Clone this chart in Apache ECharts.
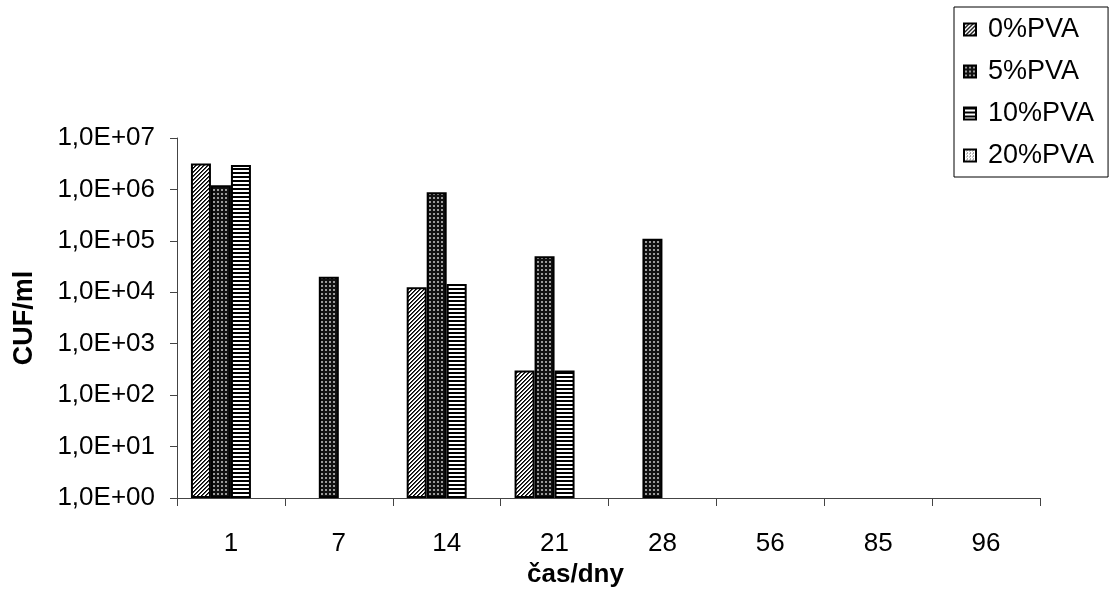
<!DOCTYPE html>
<html>
<head>
<meta charset="utf-8">
<script src="https://cdn.jsdelivr.net/npm/echarts@6/dist/echarts.min.js"></script>
<style>
  html, body { margin: 0; padding: 0; background: #fff; }
  #chart { width: 1112px; height: 604px; }
</style>
</head>
<body>
<div id="chart"></div>
<script>
// Days of storage (category axis)
const categories = ['1', '7', '14', '21', '28', '56', '85', '96'];
// CUF/ml per PVA content; null = nothing detected
const pva0  = [3.2e6, null, 1.25e4, 3.0e2, null, null, null, null];
const pva5  = [1.2e6, 2.0e4, 8.8e5, 5.0e4, 1.1e5, null, null, null];
const pva10 = [3.0e6, null, 1.45e4, 3.0e2, null, null, null, null];
const pva20 = [null, null, null, null, null, null, null, null];
const seriesNames = ['0%PVA', '5%PVA', '10%PVA', '20%PVA'];
// Log axis ticks: 10^0 .. 10^7
const yMin = 1, yMax = 1e7;

// Monochrome fill patterns built on small canvases
function tile(w, h, paint) {
  const c = document.createElement('canvas');
  c.width = w; c.height = h;
  const ctx = c.getContext('2d');
  paint(ctx, w, h);
  return { image: c, repeat: 'repeat' };
}
function px(ctx, x, y, col) { ctx.fillStyle = col; ctx.fillRect(x, y, 1, 1); }

const patDiag = tile(4, 4, (ctx, w, h) => {
  ctx.fillStyle = '#fff'; ctx.fillRect(0, 0, w, h);
  for (let y = 0; y < h; y++) for (let x = 0; x < w; x++) {
    const m = (x + y) % 4;
    if (m === 0) px(ctx, x, y, '#000');
    else if (m === 1) px(ctx, x, y, '#444');
  }
});
const patDark = tile(4, 4, (ctx, w, h) => {
  ctx.fillStyle = '#111'; ctx.fillRect(0, 0, w, h);
  ctx.fillStyle = '#9a9a9a'; ctx.fillRect(1, 1, 2, 2);
});
const patStripe = tile(4, 4, (ctx, w, h) => {
  ctx.fillStyle = '#fff'; ctx.fillRect(0, 0, w, h);
  ctx.fillStyle = '#000'; ctx.fillRect(0, 0, w, 2);
});
const patDots = tile(3, 3, (ctx, w, h) => {
  ctx.fillStyle = '#fff'; ctx.fillRect(0, 0, w, h);
  px(ctx, 0, 0, '#555'); px(ctx, 2, 1, '#999');
});

const patterns = [patDiag, patDark, patStripe, patDots];
const values = [pva0, pva5, pva10, pva20];

function fmtExp(v) {
  const k = Math.round(Math.log10(v));
  return '1,0E+' + String(k).padStart(2, '0');
}

const font = 'Liberation Sans, Arial, sans-serif';

const chart = echarts.init(document.getElementById('chart'), null, { renderer: 'canvas' });
chart.setOption({
  animation: false,
  backgroundColor: '#fff',
  grid: { left: 177, right: 72, top: 138, bottom: 106, containLabel: false },
  legend: {
    orient: 'vertical',
    left: 954,
    top: 7,
    padding: [9, 14, 8, 9],
    borderColor: '#000',
    borderWidth: 1,
    itemWidth: 12,
    itemHeight: 12,
    itemGap: 15,
    icon: 'rect',
    textStyle: { fontFamily: font, fontSize: 27, color: '#000', padding: [0, 0, 0, 7], lineHeight: 27 },
    data: seriesNames
  },
  xAxis: {
    type: 'category',
    data: categories,
    boundaryGap: true,
    name: 'čas/dny',
    nameLocation: 'middle',
    nameGap: 55,
    nameTextStyle: { fontFamily: font, fontSize: 26, fontWeight: 'bold', color: '#000', padding: [0, 66, 0, 0] },
    axisLine: { lineStyle: { color: '#444', width: 1 } },
    axisTick: { show: true, length: 8, alignWithLabel: false, lineStyle: { color: '#444' } },
    axisLabel: { fontFamily: font, fontSize: 26, color: '#000', margin: 33 },
    splitLine: { show: false }
  },
  yAxis: {
    type: 'log',
    logBase: 10,
    min: yMin,
    max: yMax,
    name: 'CUF/ml',
    nameLocation: 'middle',
    nameGap: 139,
    nameTextStyle: { fontFamily: font, fontSize: 27, fontWeight: 'bold', color: '#000' },
    axisLine: { show: true, lineStyle: { color: '#444', width: 1 } },
    axisTick: { show: true, length: 7, lineStyle: { color: '#444' } },
    axisLabel: { fontFamily: font, fontSize: 26, color: '#000', margin: 22, formatter: fmtExp },
    splitLine: { show: false },
    minorTick: { show: false }
  },
  series: seriesNames.map((name, i) => ({
    name: name,
    type: 'bar',
    data: values[i],
    barWidth: 20,
    barGap: '0%',
    itemStyle: { color: patterns[i], borderColor: '#000', borderWidth: 2 },
    emphasis: { disabled: true }
  }))
});
</script>
</body>
</html>
